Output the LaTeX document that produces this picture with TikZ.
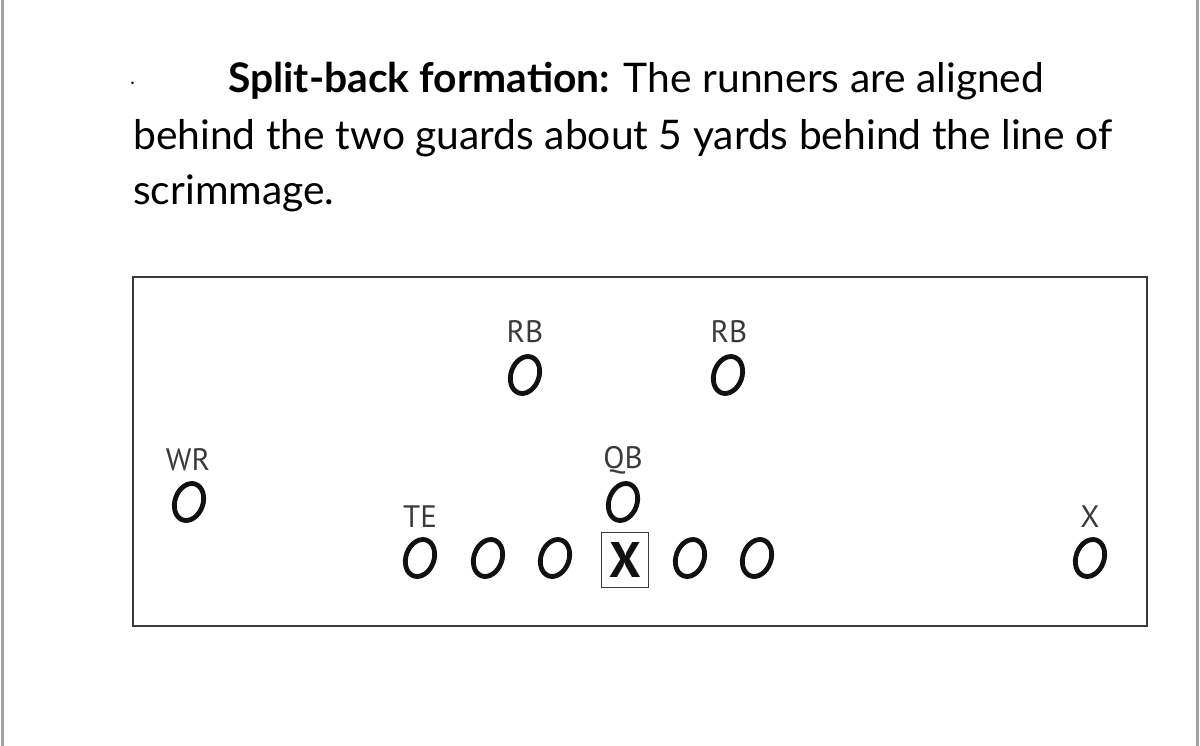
\documentclass[tikz,border=0pt]{standalone}
\usepackage{fontspec}
\setmainfont{Lato}
\newfontfamily\lblfont{PT Sans}
\usetikzlibrary{shapes.geometric}
\definecolor{inkc}{HTML}{111111}
\definecolor{framec}{HTML}{3A3A3A}
\definecolor{pagec}{HTML}{A0A0A0}
\tikzset{
  player/.style={draw=inkc, shape=ellipse, line width=4.8pt, minimum width=28pt, minimum height=38pt, inner sep=0pt, rotate=-20},
  lbl/.style={text=framec, font=\lblfont\fontsize{31}{31}\selectfont, inner sep=0pt},
  bodytext/.style={anchor=base west, inner sep=0pt, text=black, font=\fontsize{40.8}{40.8}\selectfont},
  centerbox/.style={draw=framec, line width=1.8pt, minimum width=47pt, minimum height=55pt, inner sep=0pt, font=\lblfont\bfseries\fontsize{50}{50}\selectfont, text=inkc}
}
\begin{document}
\begin{tikzpicture}[x=1pt,y=-1pt]
\useasboundingbox (0,0) rectangle (1200,746);
% page edges
\draw[pagec, line width=3pt] (2,0) -- (2,746);
\draw[pagec, line width=3pt] (1197,0) -- (1197,746);
% text
\node[anchor=base west, inner sep=0pt, font=\fontsize{28}{28}\selectfont] (dot) at (129,90) {$\cdot$};
\node[bodytext] (l1) at (228,93) {\textbf{Split-back formation:} The runners are aligned};
\node[bodytext] (l2) at (133,150) {behind the two guards about 5 yards behind the line of};
\node[bodytext] (l3) at (133,205) {scrimmage.};
% field frame
\draw[framec, line width=2.2pt] (133,277) rectangle (1147,626);
% players
\node[player] (rb1) at (525,375) {};
\node[player] (rb2) at (728,375) {};
\node[player] (wr) at (189,502) {};
\node[player] (qb) at (623,502) {};
\node[player] (te) at (420,558) {};
\node[player] (lt) at (488,558) {};
\node[player] (lg) at (555,558) {};
\node[centerbox] (c) at (625,560) {X};
\node[player] (rg) at (690,558) {};
\node[player] (rt) at (757,558) {};
\node[player] (xr) at (1090,558) {};
% labels
\node[lbl] (rb1l) at (525,332) {RB};
\node[lbl] (rb2l) at (729,332) {RB};
\node[lbl] (wrl) at (188,460) {WR};
\node[lbl] (qbl) at (623,460) {QB};
\node[lbl] (tel) at (420,517) {TE};
\node[lbl] (xl) at (1090,517) {X};
\end{tikzpicture}
\end{document}
